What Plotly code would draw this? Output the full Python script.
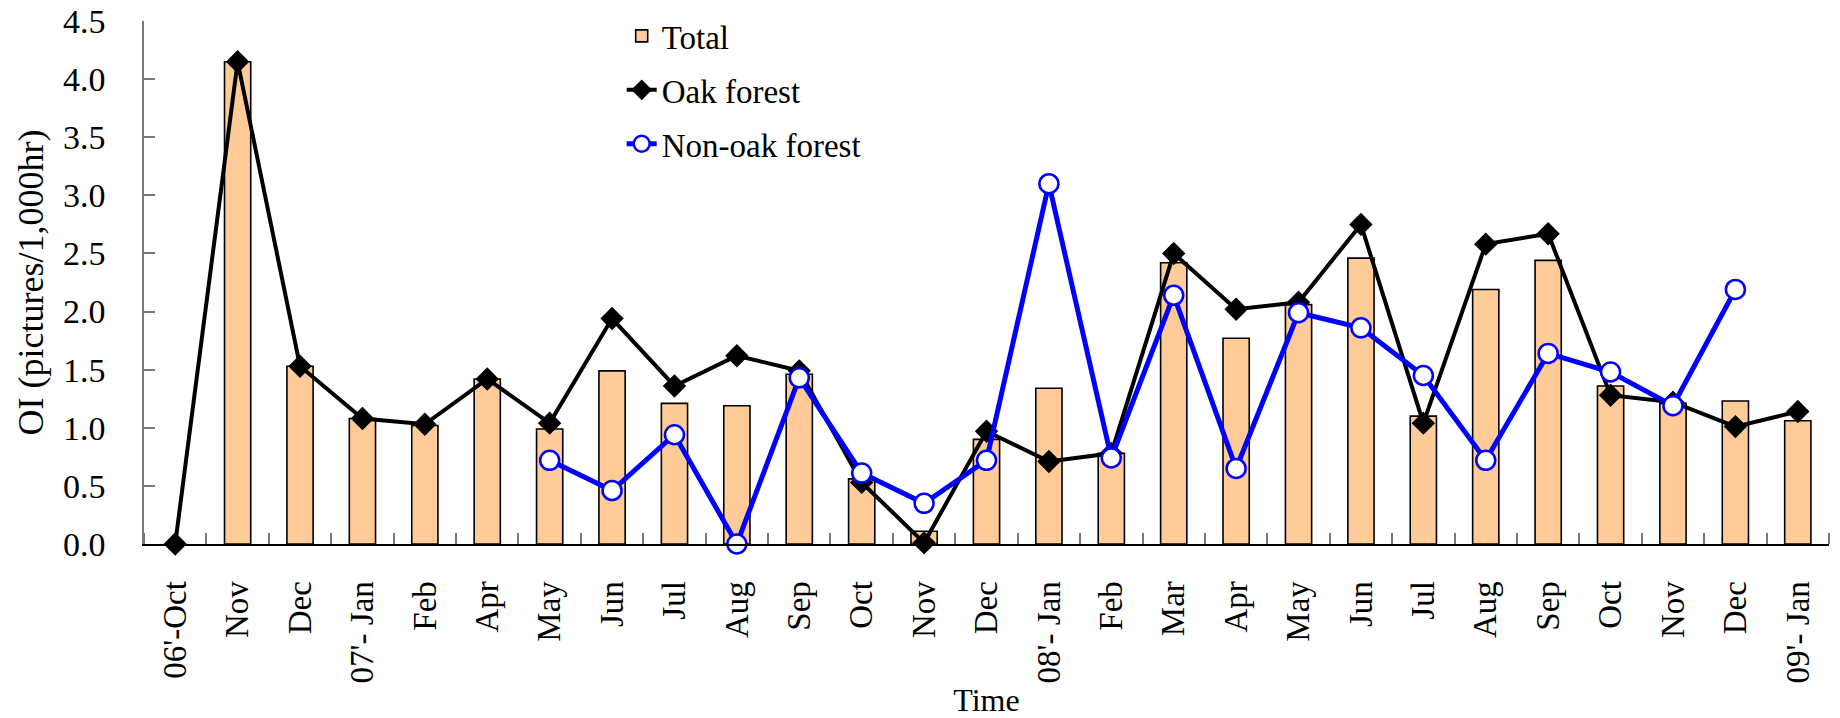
import plotly.graph_objects as go

labels = ["06'-Oct", "Nov", "Dec", "07'- Jan", "Feb", "Apr", "May", "Jun", "Jul", "Aug",
          "Sep", "Oct", "Nov", "Dec", "08'- Jan", "Feb", "Mar", "Apr", "May", "Jun",
          "Jul", "Aug", "Sep", "Oct", "Nov", "Dec", "09'- Jan"]

total = [None, 4.15, 1.53, 1.08, 1.02, 1.42, 0.99, 1.49, 1.21, 1.19,
         1.46, 0.56, 0.11, 0.90, 1.34, 0.78, 2.42, 1.77, 2.06, 2.46,
         1.10, 2.19, 2.44, 1.36, 1.21, 1.23, 1.06]

oak = [0.00, 4.15, 1.53, 1.08, 1.03, 1.42, 1.04, 1.94, 1.36, 1.62,
       1.49, 0.53, 0.01, 0.97, 0.71, 0.78, 2.50, 2.02, 2.08, 2.75,
       1.04, 2.58, 2.67, 1.28, 1.22, 1.01, 1.14]

non_oak = [None, None, None, None, None, None, 0.72, 0.46, 0.94, 0.00,
           1.43, 0.61, 0.35, 0.72, 3.10, 0.74, 2.14, 0.65, 1.99, 1.86,
           1.45, 0.72, 1.64, 1.48, 1.19, 2.19, None]

x = list(range(len(labels)))
FONT = "Liberation Serif, Times New Roman, serif"

fig = go.Figure()
fig.add_trace(go.Bar(
    x=x, y=total, name="Total", width=0.42,
    marker=dict(color="#FFCC99", line=dict(color="black", width=1.6)),
    legendgroup="a",
))
fig.add_trace(go.Scatter(
    x=x, y=oak, name="Oak forest", mode="lines+markers",
    line=dict(color="black", width=4),
    marker=dict(symbol="diamond", size=18, color="black"),
    cliponaxis=False, legendgroup="b",
))
fig.add_trace(go.Scatter(
    x=x, y=non_oak, name="Non-oak forest", mode="lines+markers",
    line=dict(color="#0000FF", width=5),
    marker=dict(symbol="circle", size=19, color="white", line=dict(color="#0000FF", width=2.5)),
    cliponaxis=False, legendgroup="c",
))

fig.update_layout(
    width=1832, height=710,
    margin=dict(l=136, r=11, t=13, b=174, autoexpand=False),
    plot_bgcolor="white", paper_bgcolor="white",
    font=dict(family=FONT, size=33, color="black"),
    showlegend=True,
    legend=dict(
        x=0.2835, y=1.025, xanchor="left", yanchor="top",
        bgcolor="rgba(0,0,0,0)", font=dict(size=33, family=FONT),
        traceorder="grouped", tracegroupgap=8,
    ),
    bargap=0.58,
)

fig.update_xaxes(
    range=[-0.5, 26.5], automargin=False,
    tickmode="array", tickvals=x, ticktext=labels, tickangle=-90,
    ticks="", showgrid=False, zeroline=False,
    showline=True, linecolor="black", linewidth=2,
    tickfont=dict(size=33, family=FONT),
    ticklabelstandoff=22,
    minor=dict(tick0=0.5, dtick=1, ticks="inside", ticklen=11, tickcolor="#777777", tickwidth=1.5),
    title=dict(text="Time", font=dict(size=32, family=FONT), standoff=8),
)
fig.update_yaxes(
    range=[0, 4.5], automargin=False,
    tickmode="array", tickvals=[0, 0.5, 1, 1.5, 2, 2.5, 3, 3.5, 4, 4.5], tickformat=".1f",
    ticks="inside", ticklen=11, tickcolor="#777777", tickwidth=1.5,
    showgrid=False, zeroline=False,
    showline=True, linecolor="#777777", linewidth=1.5,
    tickfont=dict(size=34, family=FONT),
    ticklabelstandoff=30, ticklabeloverflow="allow",
    title=dict(text="OI (pictures/1,000hr)", font=dict(size=36, family=FONT), standoff=8),
)

fig.write_html("out.html")
